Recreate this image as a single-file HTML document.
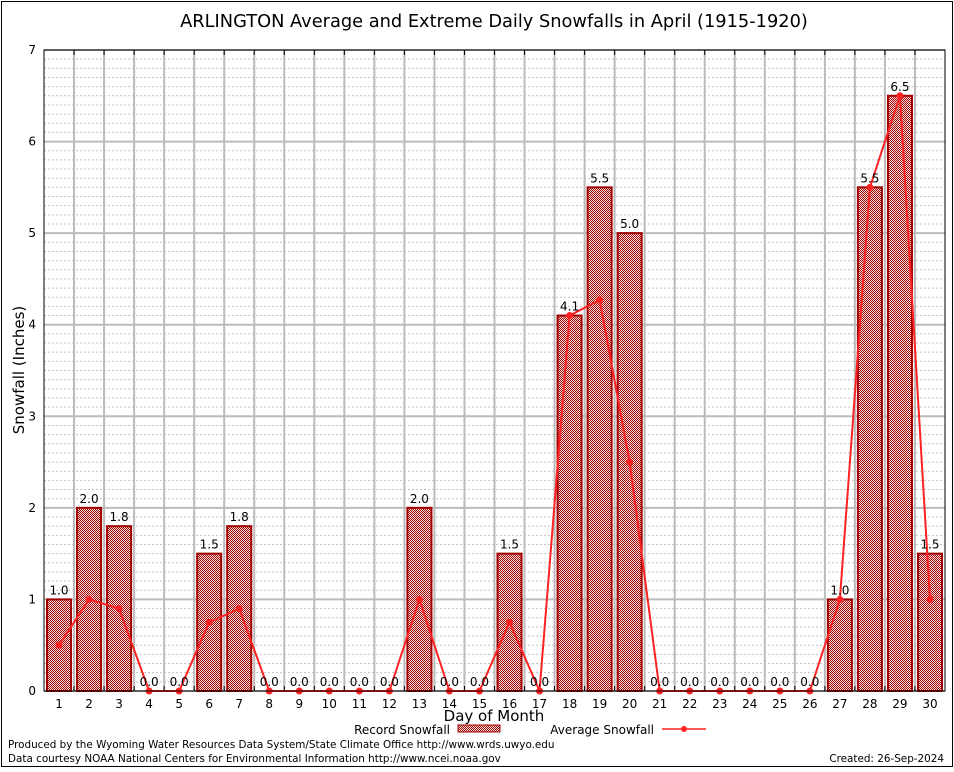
<!DOCTYPE html>
<html><head><meta charset="utf-8"><style>
body{margin:0;background:#fff;font-family:"DejaVu Sans","Liberation Sans",sans-serif}
svg text{font-family:"DejaVu Sans","Liberation Sans",sans-serif}
</style></head><body>
<svg id="c" width="954" height="768" xmlns="http://www.w3.org/2000/svg">
<defs><pattern id="hatch" width="2" height="2" patternUnits="userSpaceOnUse"><rect width="2" height="2" fill="#f4dede"/><rect width="1" height="1" fill="#a00000"/><rect x="1" y="1" width="1" height="1" fill="#a00000"/></pattern></defs>
<rect x="1.5" y="1.5" width="951" height="765" fill="#fff" stroke="#000"/>
<g id="grid"></g><g id="bars"></g><g id="line"></g><g id="labels"></g><g id="axes"></g>
<text x="494" y="27" font-size="17.8" text-anchor="middle" font-family="Liberation Sans">ARLINGTON Average and Extreme Daily Snowfalls in April (1915-1920)</text>
<text x="24" y="370" font-size="15" text-anchor="middle" transform="rotate(-90 24 370)">Snowfall (Inches)</text>
<text x="494" y="721" font-size="15" text-anchor="middle">Day of Month</text>
<g><text x="450" y="734" font-size="12" text-anchor="end">Record Snowfall</text><rect x="458" y="725" width="42" height="7" fill="url(#hatch)" stroke="#a00000"/></g>
<g><text x="654" y="734" font-size="12" text-anchor="end">Average Snowfall</text><line x1="662" y1="729" x2="706" y2="729" stroke="#f22" stroke-width="1.5"/><circle cx="684" cy="729" r="3" fill="#f22"/></g>
<text x="8" y="748" font-size="10.4">Produced by the Wyoming Water Resources Data System/State Climate Office http://www.wrds.uwyo.edu</text>
<text x="8" y="762" font-size="10.4">Data courtesy NOAA National Centers for Environmental Information http://www.ncei.noaa.gov</text>
<text x="944" y="762" font-size="10.4" text-anchor="end">Created: 26-Sep-2024</text>
</svg>
<script>
const days=[1,2,3,4,5,6,7,8,9,10,11,12,13,14,15,16,17,18,19,20,21,22,23,24,25,26,27,28,29,30];
const records=[1.0,2.0,1.8,0,0,1.5,1.8,0,0,0,0,0,2.0,0,0,1.5,0,4.1,5.5,5.0,0,0,0,0,0,0,1.0,5.5,6.5,1.5];
const averages=[0.5,1.0,0.9,0,0,0.75,0.9,0,0,0,0,0,1.0,0,0,0.75,0,4.1,4.27,2.5,0,0,0,0,0,0,1.0,5.5,6.5,1.0];
const yTicks=[0,1,2,3,4,5,6,7];
const X0=44,X1=945,Y0=691,Y1=50,YMAX=7;
const slot=(X1-X0)/days.length;
const xC=i=>X0+slot*(i+0.5);
const y=v=>Y0-(v/YMAX)*(Y0-Y1);
const NS="http://www.w3.org/2000/svg";
function mk(p,t,a){const e=document.createElementNS(NS,t);for(const k in a)e.setAttribute(k,a[k]);document.getElementById(p).appendChild(e);return e;}
for(let k=1;k<YMAX*10;k++){if(k%10===0)continue;const l=mk('grid','line',{x1:X0,x2:X1,y1:y(k/10),y2:y(k/10),stroke:'#c4c4c4','stroke-dasharray':'2,2'});

}
yTicks.forEach(t=>{const l=mk('grid','line',{x1:X0,x2:X1,y1:y(t),y2:y(t),stroke:'#bbb','stroke-width':2});


const tx=mk('axes','text',{x:X0-8,y:y(t)+4,'font-size':12,'text-anchor':'end','font-family':'Liberation Serif'});tx.textContent=t;

});
for(let i=1;i<days.length;i++){const l=mk('grid','line',{x1:X0+slot*i,x2:X0+slot*i,y1:Y1,y2:Y0,stroke:'#bbb','stroke-width':2});


mk('axes','line',{x1:X0+slot*i,x2:X0+slot*i,y1:Y1,y2:Y1+5,stroke:'#000'});mk('axes','line',{x1:X0+slot*i,x2:X0+slot*i,y1:Y0,y2:Y0-5,stroke:'#000'});}
days.forEach((d,i)=>{const v=records[i];
if(v>0){const r=mk('bars','rect',{x:X0+slot*i+3,y:y(v),width:slot-6,height:Y0-y(v),fill:'url(#hatch)',stroke:'#a00000','stroke-width':2});

}
const t=mk('labels','text',{x:xC(i),y:y(v)-5,'font-size':12,'text-anchor':'middle'});t.textContent=v.toFixed(1);


const xl=mk('axes','text',{x:xC(i),y:Y0+17,'font-size':12,'text-anchor':'middle','font-family':'Liberation Serif'});xl.textContent=d;

});
const pl=mk('line','polyline',{points:averages.map((v,i)=>xC(i)+','+y(v)).join(' '),fill:'none',stroke:'#f22','stroke-width':2});


averages.forEach((v,i)=>{const c=mk('line','circle',{cx:xC(i),cy:y(v),r:3.5,fill:'#f22'});

});
const ax=mk('axes','rect',{x:X0,y:Y1,width:X1-X0,height:Y0-Y1,fill:'none',stroke:'#000'});


</script>
</body></html>
